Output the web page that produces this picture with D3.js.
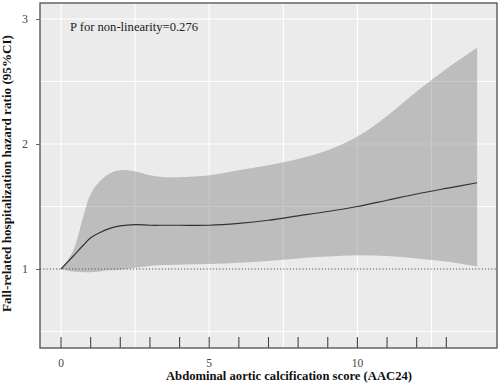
<!DOCTYPE html>
<html>
<head>
<meta charset="utf-8">
<script src="https://cdn.jsdelivr.net/npm/d3@7"></script>
<style>
  body { margin: 0; background: #fff; }
</style>
</head>
<body>
<div id="chart"></div>
<script>
var score = [0, 0.4, 0.75, 1, 1.3, 1.65, 2, 2.5, 3, 3.5, 4, 5, 6, 7, 8, 9, 10, 11, 12, 13, 14.04];
// hazard ratio and its 95% CI
var hr    = [1.00, 1.10, 1.19, 1.25, 1.29, 1.325, 1.345, 1.355, 1.35, 1.35, 1.35, 1.35, 1.365, 1.39, 1.425, 1.46, 1.50, 1.55, 1.60, 1.645, 1.69];
var upper = [1.00, 1.14, 1.42, 1.60, 1.70, 1.765, 1.79, 1.78, 1.75, 1.735, 1.735, 1.75, 1.79, 1.83, 1.88, 1.95, 2.06, 2.225, 2.42, 2.60, 2.77];
var lower = [1.00, 0.98, 0.975, 0.975, 0.98, 0.99, 0.995, 1.01, 1.025, 1.032, 1.035, 1.04, 1.05, 1.065, 1.085, 1.10, 1.11, 1.105, 1.085, 1.06, 1.02];

var xTickLabels = [0, 5, 10];
var xRug = d3.range(0, 14);
var yTickLabels = [1, 2, 3];
var xGrid = [0, 2.5, 5, 7.5, 10, 12.5];
var yGrid = [0.5, 1.5, 2, 2.5, 3];

var pText = "P for non-linearity=0.276";
var xTitle = "Abdominal aortic calcification score (AAC24)";
var yTitle = "Fall-related hospitalization hazard ratio (95%CI)";

var serif = "'Liberation Serif', 'Times New Roman', 'DejaVu Serif', serif";

var svgWidth = 500, svgHeight = 389;
var panel = { left: 40, right: 497, top: 3, bottom: 348 };

var svg = d3.select("#chart").append("svg")
    .attr("width", svgWidth)
    .attr("height", svgHeight)
    .style("font-family", serif);

var x = d3.scaleLinear().domain([-0.709, 14.71]).range([panel.left, panel.right]);
var y = d3.scaleLinear().domain([0.368, 3.128]).range([panel.bottom, panel.top]);

// panel background
svg.append("rect")
    .attr("x", panel.left).attr("y", panel.top)
    .attr("width", panel.right - panel.left)
    .attr("height", panel.bottom - panel.top)
    .attr("fill", "#ebebeb");

// grid
svg.selectAll(".vgrid").data(xGrid).enter().append("line")
    .attr("x1", d => x(d)).attr("x2", d => x(d))
    .attr("y1", panel.top).attr("y2", panel.bottom)
    .attr("stroke", "#fff").attr("stroke-width", 1.1);

svg.selectAll(".hgrid").data(yGrid).enter().append("line")
    .attr("x1", panel.left).attr("x2", panel.right)
    .attr("y1", d => y(d)).attr("y2", d => y(d))
    .attr("stroke", "#fff").attr("stroke-width", 1.1);

var data = score.map((s, i) => ({ s: s, hr: hr[i], lo: lower[i], up: upper[i] }));

// confidence band
var band = d3.area()
    .x(d => x(d.s))
    .y0(d => y(d.lo))
    .y1(d => y(d.up))
    .curve(d3.curveCatmullRom.alpha(0.5));

svg.append("path")
    .datum(data)
    .attr("d", band)
    .attr("fill", "#858585")
    .attr("fill-opacity", 0.45);

// reference line at HR = 1
svg.append("line")
    .attr("x1", panel.left).attr("x2", panel.right)
    .attr("y1", y(1)).attr("y2", y(1))
    .attr("stroke", "#555")
    .attr("stroke-width", 1)
    .attr("stroke-dasharray", "1.2,2");

// hazard ratio curve
var line = d3.line()
    .x(d => x(d.s))
    .y(d => y(d.hr))
    .curve(d3.curveCatmullRom.alpha(0.5));

svg.append("path")
    .datum(data)
    .attr("d", line)
    .attr("fill", "none")
    .attr("stroke", "#333")
    .attr("stroke-width", 1.2);

// rug-like ticks inside the panel
svg.selectAll(".rug").data(xRug).enter().append("line")
    .attr("x1", d => x(d)).attr("x2", d => x(d))
    .attr("y1", panel.bottom - 11).attr("y2", panel.bottom)
    .attr("stroke", "#444").attr("stroke-width", 1.1);

// panel border
svg.append("rect")
    .attr("x", panel.left).attr("y", panel.top)
    .attr("width", panel.right - panel.left)
    .attr("height", panel.bottom - panel.top)
    .attr("fill", "none")
    .attr("stroke", "#5a5a5a")
    .attr("stroke-width", 1.4);

// y axis ticks and labels
var yAxis = d3.axisLeft(y).tickValues(yTickLabels).tickSize(4).tickPadding(8)
    .tickFormat(d3.format("d"));
svg.append("g")
    .attr("transform", `translate(${panel.left},0)`)
    .call(yAxis)
    .attr("font-family", serif)
    .attr("font-size", 12)
    .call(g => g.select(".domain").remove())
    .call(g => g.selectAll("line").attr("stroke", "#666"))
    .call(g => g.selectAll("text").attr("fill", "#444"));

// x tick labels
svg.selectAll(".xlab").data(xTickLabels).enter().append("text")
    .attr("x", d => x(d))
    .attr("y", 366.5)
    .attr("text-anchor", "middle")
    .attr("fill", "#444")
    .attr("font-family", serif)
    .attr("font-size", 11.5)
    .text(d => d);

// titles
svg.append("text")
    .attr("x", 166).attr("y", 380)
    .attr("fill", "#111")
    .attr("font-family", serif)
    .attr("font-size", 12.5)
    .attr("font-weight", "bold")
    .attr("textLength", 246)
    .attr("lengthAdjust", "spacingAndGlyphs")
    .text(xTitle);

svg.append("text")
    .attr("transform", "translate(11,312) rotate(-90)")
    .attr("fill", "#111")
    .attr("font-family", serif)
    .attr("font-size", 12.5)
    .attr("font-weight", "bold")
    .attr("textLength", 277)
    .attr("lengthAdjust", "spacingAndGlyphs")
    .text(yTitle);

svg.append("text")
    .attr("x", 70).attr("y", 30.5)
    .attr("fill", "#222")
    .attr("font-family", serif)
    .attr("font-size", 13)
    .attr("textLength", 128)
    .attr("lengthAdjust", "spacingAndGlyphs")
    .text(pText);
</script>
</body>
</html>
